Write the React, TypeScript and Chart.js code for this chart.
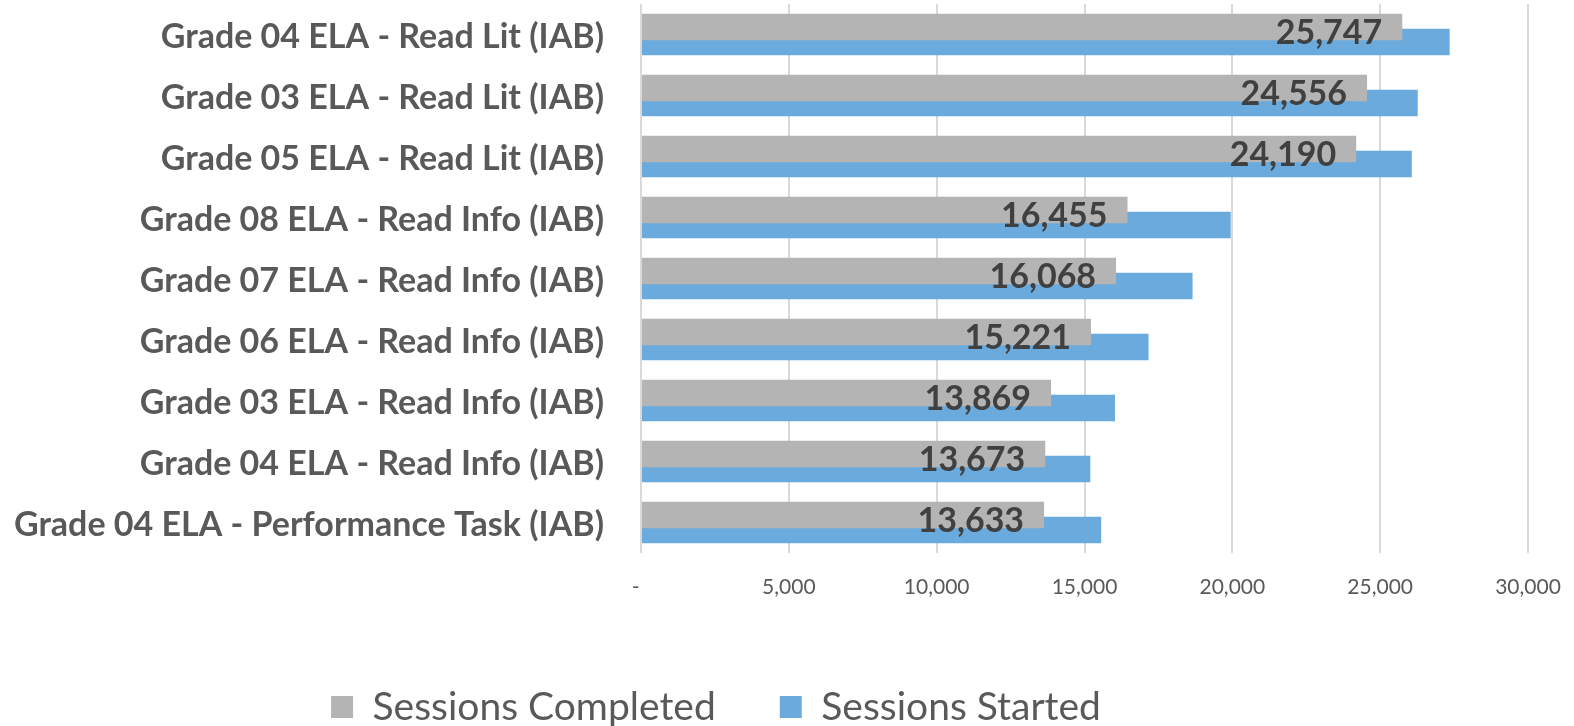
import React, { useEffect, useRef } from 'react';
import { Chart, registerables } from 'chart.js';

Chart.register(...registerables);

const categories = [
  'Grade 04 ELA - Read Lit (IAB)',
  'Grade 03 ELA - Read Lit (IAB)',
  'Grade 05 ELA - Read Lit (IAB)',
  'Grade 08 ELA - Read Info (IAB)',
  'Grade 07 ELA - Read Info (IAB)',
  'Grade 06 ELA - Read Info (IAB)',
  'Grade 03 ELA - Read Info (IAB)',
  'Grade 04 ELA - Read Info (IAB)',
  'Grade 04 ELA - Performance Task (IAB)',
];
const seriesNames = ['Sessions Completed', 'Sessions Started'];
const sessionsCompleted = [25747, 24556, 24190, 16455, 16068, 15221, 13869, 13673, 13633];
const sessionsStarted = [27350, 26270, 26070, 19945, 18655, 17166, 16030, 15195, 15565];
const xTickValues = [0, 5000, 10000, 15000, 20000, 25000, 30000];
const xTickLabels = ['-', '5,000', '10,000', '15,000', '20,000', '25,000', '30,000'];

const FONT = 'Lato';
const LEGEND_FONT_SIZE = 39;
const LEGEND_PADDING = 64;
const LEGEND_TEXT_CENTER = 707;
const LEGEND_SHIFT = -48;

const valueLabels = {
  id: 'valueLabels',
  afterDatasetsDraw(chart: any) {
    const meta = chart.getDatasetMeta(0);
    const ctx = chart.ctx;
    ctx.save();
    ctx.font = `bold 34px ${FONT}`;
    ctx.fillStyle = '#404040';
    ctx.textAlign = 'right';
    ctx.textBaseline = 'alphabetic';
    meta.data.forEach((el: any, i: number) => {
      const { x, y } = el.getProps(['x', 'y'], true);
      ctx.fillText(sessionsCompleted[i].toLocaleString('en-US'), x - 20, y + 17);
    });
    ctx.restore();
  },
};

const legendPlacer = {
  id: 'legendPlacer',
  afterLayout(chart: any) {
    const lg = chart.legend;
    if (!lg) return;
    lg.left += LEGEND_SHIFT;
    lg.right += LEGEND_SHIFT;
    lg.top = LEGEND_TEXT_CENTER - LEGEND_FONT_SIZE / 2 - LEGEND_PADDING;
  },
};

export default function App() {
  const ref = useRef<HTMLCanvasElement | null>(null);

  useEffect(() => {
    if (!ref.current) return;
    const chart = new Chart(ref.current, {
      type: 'bar',
      data: {
        labels: categories,
        datasets: [
          {
            label: seriesNames[0],
            data: sessionsCompleted,
            backgroundColor: '#B4B4B4',
            borderWidth: 0,
            categoryPercentage: 0.492,
            barPercentage: 1.75,
          },
          {
            label: seriesNames[1],
            data: sessionsStarted,
            backgroundColor: '#6AAADC',
            borderWidth: 0,
            categoryPercentage: 0.492,
            barPercentage: 1.75,
          },
        ],
      },
      options: {
        indexAxis: 'y',
        responsive: false,
        animation: false,
        layout: { padding: { top: 4, right: 46, left: 0, bottom: 0 } },
        scales: {
          x: {
            min: 0,
            max: 30000,
            afterBuildTicks: (scale: any) => {
              scale.ticks = xTickValues.map((v) => ({ value: v }));
            },
            ticks: {
              autoSkip: false,
              maxRotation: 0,
              padding: 22,
              color: '#595959',
              font: { family: FONT, size: 21 },
              callback: (v: any) => {
                const i = xTickValues.indexOf(Number(v));
                const s = xTickLabels[i] ?? '';
                return i === 0 ? s + '  ' : s;
              },
            },
            grid: { color: '#D9D9D9', lineWidth: 2, drawTicks: false },
            border: { display: false },
            afterFit: (s: any) => {
              s.height = 60;
              s.paddingLeft = 0;
              s.paddingRight = 0;
            },
          },
          y: {
            ticks: {
              autoSkip: false,
              padding: 37,
              labelOffset: 3,
              color: '#595959',
              font: { family: FONT, size: 34, weight: 'bold' },
            },
            grid: { display: false, drawTicks: false },
            border: { display: false },
            afterFit: (s: any) => {
              s.width = 641;
              s.paddingTop = 0;
              s.paddingBottom = 0;
            },
          },
        },
        plugins: {
          tooltip: { enabled: false },
          legend: {
            position: 'bottom',
            maxHeight: 113,
            labels: {
              font: { family: FONT, size: LEGEND_FONT_SIZE },
              color: '#595959',
              boxWidth: 22,
              boxHeight: 22,
              padding: LEGEND_PADDING,
            },
          },
        },
      } as any,
      plugins: [valueLabels, legendPlacer],
    });
    return () => chart.destroy();
  }, []);

  return (
    <div style={{ position: 'absolute', left: 0, top: 0, width: 1574, height: 726, background: '#fff' }}>
      <canvas ref={ref} width={1574} height={726} />
    </div>
  );
}
